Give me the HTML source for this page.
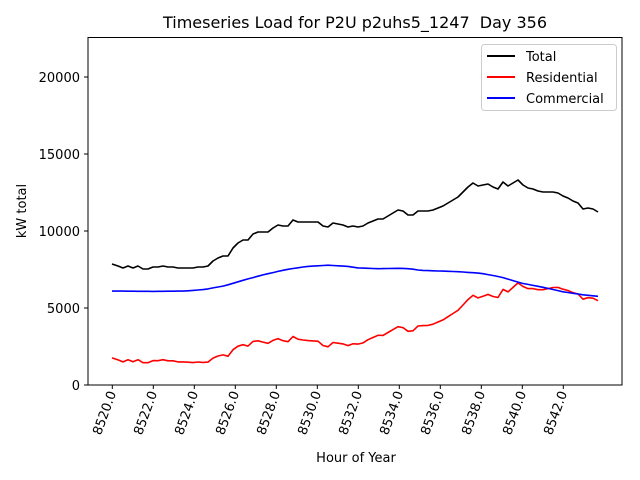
<!DOCTYPE html>
<html><head><style>body{margin:0;background:#fff}svg{display:block}text{font-family:"DejaVu Sans","Liberation Sans",sans-serif;fill:#000}</style></head>
<body>
<svg id="s" width="640" height="480" xmlns="http://www.w3.org/2000/svg">
<rect width="640" height="480" fill="#fff"/>
<text x="355" y="28" font-size="16" text-anchor="middle" xml:space="preserve">Timeseries Load for P2U p2uhs5_1247  Day 356</text>
<g id="plot"></g>
<rect x="88" y="37.5" width="534" height="347.5" fill="none" stroke="#000" stroke-width="1"/>
<g font-size="13" text-anchor="end">
<text x="80" y="390">0</text><text x="80" y="313">5000</text><text x="80" y="236">10000</text><text x="80" y="159">15000</text><text x="80" y="82">20000</text>
</g>
<g stroke="#000"><line x1="84" y1="385" x2="88" y2="385"/><line x1="84" y1="308" x2="88" y2="308"/><line x1="84" y1="231" x2="88" y2="231"/><line x1="84" y1="154" x2="88" y2="154"/><line x1="84" y1="77" x2="88" y2="77"/></g>
<g id="xt" font-size="13"></g>
<text x="356" y="462" font-size="13" text-anchor="middle">Hour of Year</text>
<text transform="translate(26,211) rotate(-90)" font-size="13" text-anchor="middle">kW total</text>
<rect x="481.5" y="44.5" width="135" height="66" rx="3" fill="#fff" fill-opacity="0.8" stroke="#ccc"/>
<line x1="487" y1="56" x2="515" y2="56" stroke="#000" stroke-width="2"/><text x="526" y="61" font-size="13">Total</text>
<line x1="487" y1="77" x2="515" y2="77" stroke="red" stroke-width="2"/><text x="526" y="82" font-size="13">Residential</text>
<line x1="487" y1="98" x2="515" y2="98" stroke="blue" stroke-width="2"/><text x="526" y="103" font-size="13">Commercial</text>
</svg>
<script>
var NS="http://www.w3.org/2000/svg";
function X(h){return 112.3+(h-8520)*20.5;}
function Y(v){return 385-v*0.0154;}
function Xinv(x){return 8520+(x-112.3)/20.5;}
function Vinv(y){return (385-y)/0.0154;}
var tp=[[112,236],[118,238],[123,240],[128,238],[133,240],[138,238],[143,241],[148,241],[153,239],[158,239],[163,238],[168,239],[173,239],[178,240],[183,240],[188,240],[193,240],[198,239],[203,239],[208,238],[213,233],[218,230],[223,228],[228,228],[233,220],[238,215],[243,212],[248,212],[253,206],[258,204],[263,204],[268,204],[273,200],[278,197],[283,198],[288,198],[293,192],[298,194],[303,194],[308,194],[313,194],[318,194],[323,198],[328,199],[333,195],[338,196],[343,197],[348,199],[353,198],[358,199],[363,198],[368,195],[373,193],[378,191],[383,191],[388,188],[393,185],[398,182],[403,183],[408,187],[413,187],[418,183],[423,183],[428,183],[433,182],[438,180],[443,178],[448,175],[453,172],[458,169],[463,164],[468,159],[473,155],[478,158],[483,157],[488,156],[493,159],[498,161],[503,154],[508,158],[513,155],[518,152],[523,157],[528,160],[533,161],[538,163],[543,164],[548,164],[553,164],[558,165],[563,168],[568,170],[573,173],[578,175],[583,181],[588,180],[593,181],[598,184]];
tp=tp.map(function(p){return [p[0],p[1]+28];});
var ck=[[8520,6100],[8522,6080],[8523.5,6100],[8524.5,6200],[8525.5,6450],[8526.5,6850],[8527.5,7200],[8528.5,7500],[8529.5,7700],[8530.5,7780],[8531.5,7700],[8532,7600],[8533,7550],[8534,7580],[8534.5,7550],[8535,7450],[8536,7400],[8537,7350],[8538,7250],[8539,7000],[8540,6600],[8541,6350],[8542,6050],[8543,5850],[8543.75,5750]];
function com(h){for(var i=0;i<ck.length-1;i++){if(h<=ck[i+1][0]){var t=(h-ck[i][0])/(ck[i+1][0]-ck[i][0]);return ck[i][1]+t*(ck[i+1][1]-ck[i][1]);}}return ck[ck.length-1][1];}
var T=[],R=[],C=[];
tp.forEach(function(p){var h=Xinv(p[0]),v=Vinv(p[1]),c=com(h);T.push(p[0]+","+p[1]);C.push(p[0]+","+Y(c).toFixed(1));R.push(p[0]+","+Y(v-c).toFixed(1));});
var g=document.getElementById("plot");
[[T,"#000"],[R,"red"],[C,"blue"]].forEach(function(s){var pl=document.createElementNS(NS,"polyline");pl.setAttribute("points",s[0].join(" "));pl.setAttribute("fill","none");pl.setAttribute("stroke",s[1]);pl.setAttribute("stroke-width","1.6");pl.setAttribute("stroke-linejoin","round");g.appendChild(pl);});
var xt=document.getElementById("xt");
for(var h=8520;h<=8542;h+=2){var x=X(h);var l=document.createElementNS(NS,"line");l.setAttribute("x1",x);l.setAttribute("x2",x);l.setAttribute("y1",385);l.setAttribute("y2",389);l.setAttribute("stroke","#000");xt.appendChild(l);
var t=document.createElementNS(NS,"text");t.setAttribute("transform","translate("+(x+4)+",393) rotate(-70)");t.setAttribute("text-anchor","end");t.textContent=h+".0";xt.appendChild(t);}
</script>
</body></html>
